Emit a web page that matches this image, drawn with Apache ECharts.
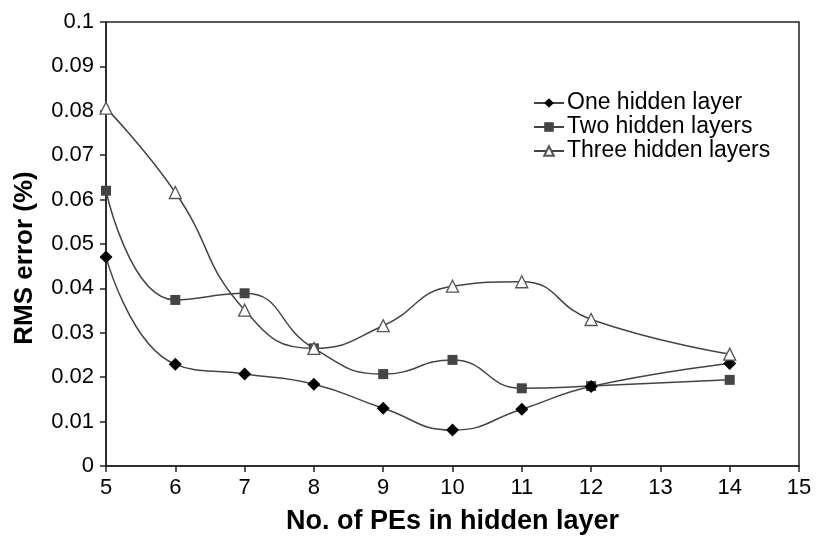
<!DOCTYPE html>
<html>
<head>
<meta charset="utf-8">
<script src="https://cdn.jsdelivr.net/npm/echarts@6/dist/echarts.min.js"></script>
<style>
html,body{margin:0;padding:0;background:#fff;}
#chart{width:817px;height:540px;}
</style>
</head>
<body>
<div id="chart"></div>
<script>
var peCounts = [5, 6, 7, 8, 9, 10, 11, 12, 14];
var oneHidden = [0.0471, 0.0229, 0.0207, 0.0184, 0.0130, 0.0081, 0.0128, 0.0179, 0.0231];
var twoHidden = [0.0620, 0.0374, 0.0389, 0.0265, 0.0207, 0.0239, 0.0175, 0.0180, 0.0194];
var threeHidden = [0.0806, 0.0616, 0.0351, 0.0265, 0.0316, 0.0405, 0.0415, 0.0330, 0.0252];
var seriesNames = ['One hidden layer', 'Two hidden layers', 'Three hidden layers'];

function pairs(ys) { return peCounts.map(function (x, i) { return [x, ys[i]]; }); }

var FONT = '"Liberation Sans", Arial, sans-serif';
var chart = echarts.init(document.getElementById('chart'), null, {renderer: 'canvas'});
var lineStyle = {color: '#444', width: 1.5};

chart.setOption({
  animation: false,
  backgroundColor: '#fff',
  textStyle: {fontFamily: FONT, color: '#000'},
  grid: {left: 106, right: 18, top: 22, bottom: 73, show: true, borderColor: '#222', borderWidth: 1.5, backgroundColor: 'transparent'},
  legend: {
    orient: 'vertical', left: 528, top: 86,
    itemWidth: 30, itemHeight: 12, itemGap: 0,
    textStyle: {fontFamily: FONT, fontSize: 23, color: '#000', lineHeight: 24, padding: [0, 0, 0, -2]},
    data: seriesNames
  },
  xAxis: {
    type: 'value', min: 5, max: 15, interval: 1,
    name: 'No. of PEs in hidden layer', nameLocation: 'middle', nameGap: 42,
    nameTextStyle: {fontFamily: FONT, fontSize: 27, fontWeight: 'bold', color: '#000'},
    axisLine: {show: true, lineStyle: {color: '#222', width: 1.5}},
    axisTick: {show: true, inside: false, length: 6, lineStyle: {color: '#222', width: 1.5}},
    axisLabel: {fontFamily: FONT, fontSize: 22, color: '#000', margin: 11},
    splitLine: {show: false}
  },
  yAxis: {
    type: 'value', min: 0, max: 0.1, interval: 0.01,
    name: 'RMS error (%)', nameLocation: 'middle', nameGap: 68, nameRotate: 90,
    nameTextStyle: {fontFamily: FONT, fontSize: 26, fontWeight: 'bold', color: '#000', padding: [0, 28, 0, 0]},
    axisLine: {show: true, lineStyle: {color: '#222', width: 1.5}},
    axisTick: {show: true, inside: false, length: 6, lineStyle: {color: '#222', width: 1.5}},
    axisLabel: {fontFamily: FONT, fontSize: 22, color: '#000', margin: 12,
      formatter: function (v) { return String(+v.toFixed(2)); }},
    splitLine: {show: false}
  },
  series: [
    {name: seriesNames[0], type: 'line', smooth: 0.5, data: pairs(oneHidden),
     symbol: 'diamond', symbolSize: 13, lineStyle: lineStyle,
     itemStyle: {color: '#000', borderColor: '#000', borderWidth: 0}, z: 4},
    {name: seriesNames[1], type: 'line', smooth: 0.5, data: pairs(twoHidden),
     symbol: 'rect', symbolSize: 10, lineStyle: lineStyle,
     itemStyle: {color: '#444', borderColor: '#444', borderWidth: 0}, z: 3},
    {name: seriesNames[2], type: 'line', smooth: 0.5, data: pairs(threeHidden),
     symbol: 'triangle', symbolSize: 12, lineStyle: lineStyle,
     itemStyle: {color: '#fff', borderColor: '#555', borderWidth: 1.3}, z: 5}
  ]
});
</script>
</body>
</html>
